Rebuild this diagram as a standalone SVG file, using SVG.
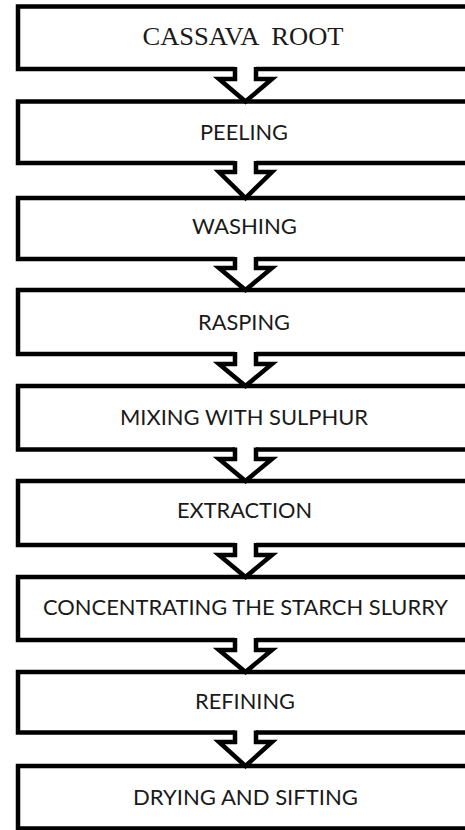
<svg xmlns="http://www.w3.org/2000/svg" width="465" height="830" viewBox="0 0 465 830">
<style>
.box{fill:#fff;stroke:#000;stroke-width:4.5}
.lbl{font-family:"Lato","Liberation Sans",sans-serif;font-size:22px;fill:#1a1a1a;text-anchor:middle}
.serif{font-family:"Liberation Serif","Times New Roman",serif;font-size:25px;fill:#1a1a1a;text-anchor:middle}
.afill{fill:#fff;stroke:none}
.aline{fill:none;stroke:#000;stroke-width:4.5;stroke-linejoin:miter}
</style>
<rect width="465" height="830" fill="#fff"/>
<g id="n1"><rect class="box" x="18" y="6.5" width="460" height="62.5"/><text class="serif" x="243" y="45" textLength="201" lengthAdjust="spacingAndGlyphs" xml:space="preserve">CASSAVA  ROOT</text></g>
<g id="n2"><rect class="box" x="18" y="101.5" width="460" height="61.5"/><text class="lbl" x="244" y="140" textLength="88" lengthAdjust="spacingAndGlyphs">PEELING</text></g>
<g id="n3"><rect class="box" x="18" y="198" width="460" height="61"/><text class="lbl" x="244.5" y="234" textLength="105" lengthAdjust="spacingAndGlyphs">WASHING</text></g>
<g id="n4"><rect class="box" x="18" y="290" width="460" height="64"/><text class="lbl" x="244" y="330" textLength="92" lengthAdjust="spacingAndGlyphs">RASPING</text></g>
<g id="n5"><rect class="box" x="18" y="386" width="460" height="63.5"/><text class="lbl" x="244" y="425" textLength="248" lengthAdjust="spacingAndGlyphs">MIXING WITH SULPHUR</text></g>
<g id="n6"><rect class="box" x="18" y="481" width="460" height="64"/><text class="lbl" x="244.5" y="518" textLength="135" lengthAdjust="spacingAndGlyphs">EXTRACTION</text></g>
<g id="n7"><rect class="box" x="18" y="577" width="460" height="63"/><text class="lbl" x="245.5" y="615" textLength="405" lengthAdjust="spacingAndGlyphs">CONCENTRATING THE STARCH SLURRY</text></g>
<g id="n8"><rect class="box" x="18" y="672" width="460" height="60.5"/><text class="lbl" x="245" y="709" textLength="100" lengthAdjust="spacingAndGlyphs">REFINING</text></g>
<g id="n9"><rect class="box" x="18" y="766" width="460" height="62.5"/><text class="lbl" x="245.5" y="805" textLength="225" lengthAdjust="spacingAndGlyphs">DRYING AND SIFTING</text></g>
<g id="connectors">
<g id="a1"><polygon class="afill" points="235,66 256,66 256,79 272,79 245.5,101.5 219,79 235,79"/><polyline class="aline" points="235,67 235,79 219,79 245.5,101.5 272,79 256,79 256,67"/></g>
<g id="a2"><polygon class="afill" points="235,160 256,160 256,172 272,172 245.5,198 219,172 235,172"/><polyline class="aline" points="235,161 235,172 219,172 245.5,198 272,172 256,172 256,161"/></g>
<g id="a3"><polygon class="afill" points="235,256 256,256 256,268 272,268 245.5,290 219,268 235,268"/><polyline class="aline" points="235,257 235,268 219,268 245.5,290 272,268 256,268 256,257"/></g>
<g id="a4"><polygon class="afill" points="235,351 256,351 256,364 272,364 245.5,386 219,364 235,364"/><polyline class="aline" points="235,352 235,364 219,364 245.5,386 272,364 256,364 256,352"/></g>
<g id="a5"><polygon class="afill" points="235,446.5 256,446.5 256,459 272,459 245.5,481 219,459 235,459"/><polyline class="aline" points="235,447.5 235,459 219,459 245.5,481 272,459 256,459 256,447.5"/></g>
<g id="a6"><polygon class="afill" points="235,542 256,542 256,555 272,555 245.5,577 219,555 235,555"/><polyline class="aline" points="235,543 235,555 219,555 245.5,577 272,555 256,555 256,543"/></g>
<g id="a7"><polygon class="afill" points="235,637 256,637 256,650 272,650 245.5,672 219,650 235,650"/><polyline class="aline" points="235,638 235,650 219,650 245.5,672 272,650 256,650 256,638"/></g>
<g id="a8"><polygon class="afill" points="235,729.5 256,729.5 256,742 272,742 245.5,766 219,742 235,742"/><polyline class="aline" points="235,730.5 235,742 219,742 245.5,766 272,742 256,742 256,730.5"/></g>
</g>
</svg>
